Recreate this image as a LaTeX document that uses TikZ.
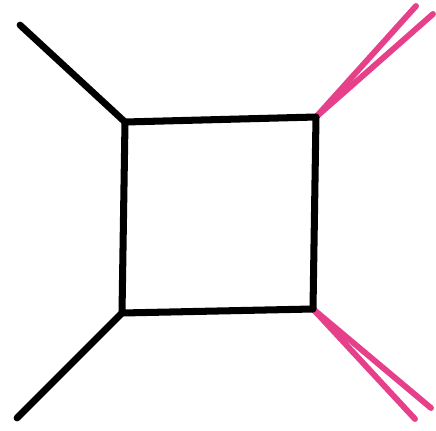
\documentclass[tikz,border=0pt]{standalone}
\usetikzlibrary{positioning}
\definecolor{legpink}{HTML}{E6408A}
\tikzset{
	sqline/.style={line width=5pt, line cap=round, line join=round, black},
	extleg/.style={line width=4.8pt, line cap=round, black},
	pinkleg/.style={line width=4.2pt, line cap=round, legpink}
}
\begin{document}
\begin{tikzpicture}[x=0.025cm, y=-0.025cm]
	\useasboundingbox (0,0) rectangle (436,430);
	% Corners of the box and free ends:
	\coordinate (tl) at (125, 122);
	\coordinate (tr) at (316, 117);
	\coordinate (br) at (313, 309);
	\coordinate (bl) at (122, 313);
	\coordinate (tlend) at (20, 25);
	\coordinate (blend) at (17, 418);
	\coordinate (trendA) at (416, 6);
	\coordinate (trendB) at (433, 14);
	\coordinate (brendA) at (415, 419);
	\coordinate (brendB) at (431, 408);
	% Paths and wires:
	\draw[extleg] (tl) -- (tlend);
	\draw[extleg] (bl) -- (blend);
	\draw[pinkleg] (tr) -- (trendA);
	\draw[pinkleg] (tr) -- (trendB);
	\draw[pinkleg] (br) -- (brendA);
	\draw[pinkleg] (br) -- (brendB);
	\draw[sqline] (tl) -- (tr) -- (br) -- (bl) -- cycle;
\end{tikzpicture}
\end{document}
